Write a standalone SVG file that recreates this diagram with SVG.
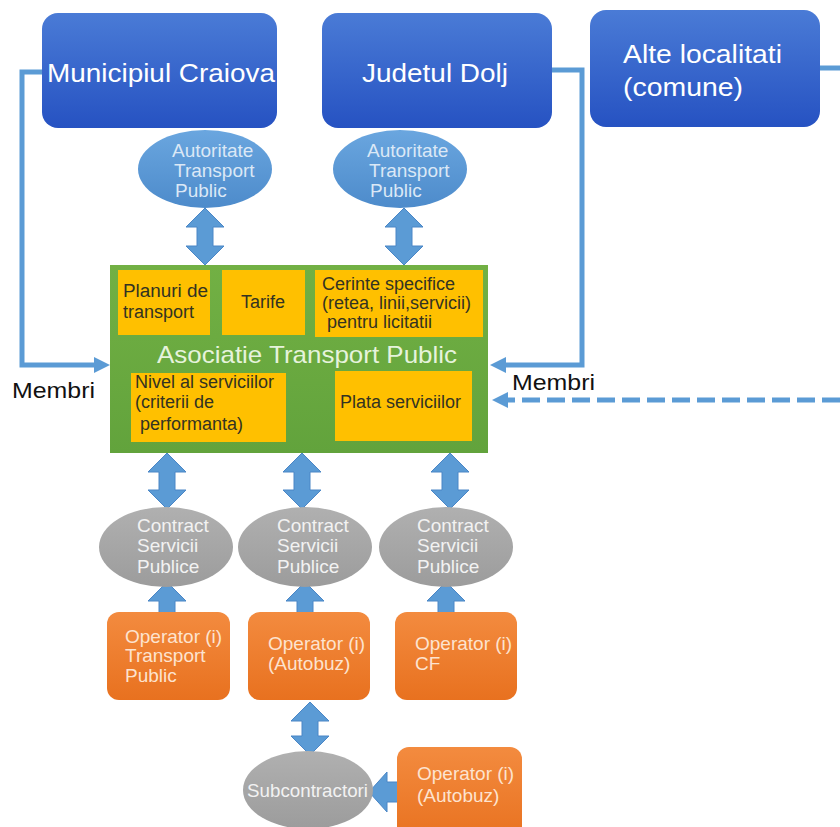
<svg xmlns="http://www.w3.org/2000/svg" width="840" height="827" viewBox="0 0 840 827">
<defs>
<linearGradient id="gBlue" x1="0" y1="0" x2="0" y2="1"><stop offset="0" stop-color="#4a7bd6"/><stop offset="1" stop-color="#2652c2"/></linearGradient>
<linearGradient id="gEll" x1="0" y1="0" x2="0" y2="1"><stop offset="0" stop-color="#6aa6df"/><stop offset="1" stop-color="#4d8bcb"/></linearGradient>
<linearGradient id="gGreen" x1="0" y1="0" x2="0" y2="1"><stop offset="0" stop-color="#72b044"/><stop offset="1" stop-color="#62a33c"/></linearGradient>
<linearGradient id="gOrange" x1="0" y1="0" x2="0" y2="1"><stop offset="0" stop-color="#f38b3f"/><stop offset="1" stop-color="#e8711f"/></linearGradient>
<linearGradient id="gGray" x1="0" y1="0" x2="0" y2="1"><stop offset="0" stop-color="#b0b0b0"/><stop offset="1" stop-color="#9c9c9c"/></linearGradient>
<marker id="ah" markerUnits="userSpaceOnUse" markerWidth="16" markerHeight="16" refX="0" refY="8" orient="auto" viewBox="0 0 16 16">
<path d="M0,0 L16,8 L0,16 Z" fill="#5b9bd5"/>
</marker>
</defs>
<style>
text{font-family:"Liberation Sans",Arial,sans-serif}
.big{font-size:26px;fill:#ffffff}
.sm{font-size:18px}
.md{font-size:19px}
.ell{fill:#dbe8f6}
.yel{fill:#ffc000}
.dark{fill:#333322}
.or{fill:#fde3cf}
.gr{fill:#f2f2f2}
.arr{fill:#5b9bd5;stroke:#4a86c6;stroke-width:1}
.con{fill:none;stroke:#5b9bd5;stroke-width:5}
</style>
<rect width="840" height="827" fill="#ffffff"/>

<g id="connectors">
<polyline class="con" points="42,72 22,72 22,365 94,365" marker-end="url(#ah)"/>
<polyline class="con" points="552,70 582,70 582,365 506,365" marker-end="url(#ah)"/>
<line class="con" x1="840" y1="400" x2="508" y2="400" stroke-dasharray="18 7" marker-end="url(#ah)"/>
<line class="con" x1="820" y1="68" x2="840" y2="68"/>
<polygon class="arr" points="205,208 224,227 213,227 213,246 224,246 205,265 186,246 197,246 197,227 186,227"/>
<polygon class="arr" points="404,208 423,227 412,227 412,246 423,246 404,265 385,246 396,246 396,227 385,227"/>
<polygon class="arr" points="167,453 186,472 175,472 175,490 186,490 167,509 148,490 159,490 159,472 148,472"/>
<polygon class="arr" points="302,453 321,472 310,472 310,490 321,490 302,509 283,490 294,490 294,472 283,472"/>
<polygon class="arr" points="450,453 469,472 458,472 458,490 469,490 450,509 431,490 442,490 442,472 431,472"/>
<polygon class="arr" points="167,582 186,601 175,601 175,613 159,613 159,601 148,601"/>
<polygon class="arr" points="305,582 324,601 313,601 313,613 297,613 297,601 286,601"/>
<polygon class="arr" points="446,582 465,601 454,601 454,613 438,613 438,601 427,601"/>
<polygon class="arr" points="310,702 329,721 318,721 318,736 329,736 310,755 291,736 302,736 302,721 291,721"/>
<polygon class="arr" points="369,792 387,772 387,782 403,782 403,802 387,802 387,812"/>
</g>

<g id="municipiul">
<rect x="42" y="13" width="235" height="115" rx="16" fill="url(#gBlue)"/>
<text class="big" x="47" y="82" textLength="228" lengthAdjust="spacingAndGlyphs">Municipiul Craiova</text>
</g>
<g id="judetul">
<rect x="322" y="13" width="230" height="115" rx="16" fill="url(#gBlue)"/>
<text class="big" x="362" y="82" textLength="146" lengthAdjust="spacingAndGlyphs">Judetul Dolj</text>
</g>
<g id="alte">
<rect x="590" y="10" width="230" height="117" rx="16" fill="url(#gBlue)"/>
<text class="big" x="623" y="63" textLength="159" lengthAdjust="spacingAndGlyphs">Alte localitati</text>
<text class="big" x="623" y="96" textLength="120" lengthAdjust="spacingAndGlyphs">(comune)</text>
</g>

<g id="autoritate1">
<ellipse cx="205" cy="169" rx="67" ry="39" fill="url(#gEll)"/>
<text class="md ell" x="172" y="157">Autoritate</text>
<text class="md ell" x="174" y="177">Transport</text>
<text class="md ell" x="175" y="197">Public</text>
</g>
<g id="autoritate2">
<ellipse cx="400" cy="169" rx="67" ry="39" fill="url(#gEll)"/>
<text class="md ell" x="367" y="157">Autoritate</text>
<text class="md ell" x="369" y="177">Transport</text>
<text class="md ell" x="370" y="197">Public</text>
</g>

<g id="asociatie">
<rect x="110" y="265" width="378" height="188" fill="url(#gGreen)"/>
<text x="157" y="363" font-size="24" fill="#e6f3dc" textLength="300" lengthAdjust="spacingAndGlyphs">Asociatie Transport Public</text>
</g>
<g id="planuri">
<rect class="yel" x="118" y="270" width="92" height="65"/>
<text class="sm dark" x="123" y="297" textLength="85" lengthAdjust="spacingAndGlyphs">Planuri de</text>
<text class="sm dark" x="123" y="318">transport</text>
</g>
<g id="tarife">
<rect class="yel" x="222" y="270" width="83" height="65"/>
<text class="sm dark" x="263" y="308" text-anchor="middle">Tarife</text>
</g>
<g id="cerinte">
<rect class="yel" x="315" y="270" width="168" height="67"/>
<text class="sm dark" x="322" y="290">Cerinte specifice</text>
<text class="sm dark" x="322" y="309">(retea, linii,servicii)</text>
<text class="sm dark" x="327" y="328">pentru licitatii</text>
</g>
<g id="nivel">
<rect class="yel" x="131" y="373" width="155" height="69"/>
<text class="sm dark" x="135" y="388">Nivel al serviciilor</text>
<text class="sm dark" x="135" y="408">(criterii de</text>
<text class="sm dark" x="140" y="430">performanta)</text>
</g>
<g id="plata">
<rect class="yel" x="335" y="371" width="137" height="70"/>
<text class="sm dark" x="340" y="408">Plata serviciilor</text>
</g>

<g id="membri-labels">
<text x="12" y="398" font-size="22" fill="#111111" textLength="83" lengthAdjust="spacingAndGlyphs">Membri</text>
<text x="512" y="390" font-size="22" fill="#111111" textLength="83" lengthAdjust="spacingAndGlyphs">Membri</text>
</g>

<g id="contract1">
<ellipse cx="166" cy="547" rx="67" ry="40" fill="url(#gGray)"/>
<text class="md gr" x="137" y="532">Contract</text>
<text class="md gr" x="137" y="552">Servicii</text>
<text class="md gr" x="137" y="573">Publice</text>
</g>
<g id="contract2">
<ellipse cx="305" cy="547" rx="67" ry="40" fill="url(#gGray)"/>
<text class="md gr" x="277" y="532">Contract</text>
<text class="md gr" x="277" y="552">Servicii</text>
<text class="md gr" x="277" y="573">Publice</text>
</g>
<g id="contract3">
<ellipse cx="446" cy="547" rx="67" ry="40" fill="url(#gGray)"/>
<text class="md gr" x="417" y="532">Contract</text>
<text class="md gr" x="417" y="552">Servicii</text>
<text class="md gr" x="417" y="573">Publice</text>
</g>

<g id="operator1">
<rect x="107" y="612" width="123" height="88" rx="12" fill="url(#gOrange)"/>
<text class="md or" x="125" y="643">Operator (i)</text>
<text class="md or" x="125" y="662">Transport</text>
<text class="md or" x="125" y="682">Public</text>
</g>
<g id="operator2">
<rect x="248" y="612" width="122" height="88" rx="12" fill="url(#gOrange)"/>
<text class="md or" x="268" y="650">Operator (i)</text>
<text class="md or" x="268" y="670">(Autobuz)</text>
</g>
<g id="operator3">
<rect x="395" y="612" width="122" height="88" rx="12" fill="url(#gOrange)"/>
<text class="md or" x="415" y="650">Operator (i)</text>
<text class="md or" x="415" y="670">CF</text>
</g>

<g id="subcontractori">
<ellipse cx="308" cy="790" rx="65" ry="39" fill="url(#gGray)"/>
<text class="md gr" x="247" y="797" textLength="121" lengthAdjust="spacingAndGlyphs">Subcontractori</text>
</g>
<g id="operator4">
<rect x="397" y="747" width="125" height="95" rx="12" fill="url(#gOrange)"/>
<text class="md or" x="417" y="780">Operator (i)</text>
<text class="md or" x="417" y="802">(Autobuz)</text>
</g>
</svg>
